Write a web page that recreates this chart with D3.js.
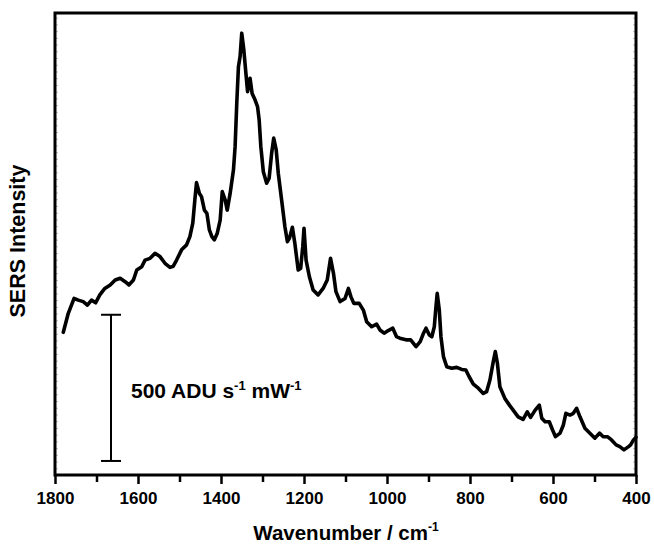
<!DOCTYPE html>
<html>
<head>
<meta charset="utf-8">
<script src="https://cdn.jsdelivr.net/npm/d3@7"></script>
<style>
  html, body { margin: 0; padding: 0; background: #fff; }
  svg { display: block; font-family: "Liberation Sans", Arial, Helvetica, sans-serif; }
</style>
</head>
<body>
<svg id="chart" width="654" height="546"></svg>
<script>
// Raman shift (cm^-1)
const wavenumbers = [
  1780,1768,1754,1744,1732,1722,1712,1702,1692,1680,1667,1655,1643,1631,1622,1611,1603,1591,1583,1571,
  1559,1547,1535,1523,1515,1507,1495,1483,1475,1468,1463,1459,1452,1447,1440,1434,1428,1422,1416,1409,
  1402,1397,1390,1385,1378,1370,1366,1362,1358,1354,1350,1345,1340,1336,1330,1325,1318,1312,1308,1304,
  1298,1290,1284,1278,1273,1267,1262,1254,1246,1240,1235,1228,1222,1214,1208,1203,1200,1195,1187,1178,
  1166,1154,1144,1136,1129,1123,1113,1101,1093,1087,1080,1067,1057,1049,1037,1025,1017,1007,997,986,
  977,969,952,943,930,920,912,906,898,892,886,882,879,874,870,864,856,844,832,820,
  810,802,792,780,768,760,752,744,739,734,728,716,705,696,684,672,662,654,643,633,
  627,619,609,601,594,583,575,569,559,551,543,535,523,511,499,488,479,469,459,448,
  439,429,418,413,406,400
];
// SERS intensity (ADU s^-1 mW^-1, arbitrary offset)
const intensities = [
  488,553,604,598,593,581,598,589,616,638,650,667,673,661,650,667,701,712,735,741,
  758,747,724,710,714,735,770,787,815,861,941,1000,963,952,906,895,838,815,804,827,
  872,969,941,906,963,1043,1123,1271,1396,1431,1511,1454,1374,1311,1357,1305,1283,1260,1214,1123,
  1037,998,1015,1100,1152,1112,1032,941,849,798,810,847,792,701,707,781,844,735,678,633,
  616,638,667,741,690,627,593,604,638,610,587,587,564,524,507,516,496,485,494,502,
  473,468,462,462,439,456,485,502,479,473,507,576,621,564,473,405,370,365,368,361,
  359,336,311,297,279,285,325,387,422,382,302,262,239,222,199,190,216,197,222,239,
  194,182,182,154,131,143,171,211,205,211,228,199,160,143,126,143,131,131,120,103,
  97,86,97,103,120,129
];
// Axis ticks
const majorTicks = [1800, 1600, 1400, 1200, 1000, 800, 600, 400];
const minorTicks = [1700, 1500, 1300, 1100, 900, 700, 500];
// Scale bar: 500 ADU s^-1 mW^-1
const scaleBar = [48, 548];
const xDomain = [1800, 400];
const yDomain = [0, 1580];

const data = wavenumbers.map((w, i) => ({ w, v: intensities[i] }));

const svg = d3.select("#chart");
const mLeft = 55, mRight = 636, mTop = 13, mBottom = 475;

const x = d3.scaleLinear().domain(xDomain).range([mLeft, mRight]);
const y = d3.scaleLinear().domain(yDomain).range([mBottom, mTop]);

// faint inner ticks on left and right frame
const faint = d3.range(0, 1580, 23);
svg.append("g")
  .attr("transform", `translate(${mLeft},0)`)
  .call(d3.axisRight(y).tickValues(faint).tickSize(3).tickFormat(""))
  .call(g => g.select(".domain").remove())
  .call(g => g.selectAll("line").attr("stroke", "#bdbdbd").attr("stroke-width", 1));
svg.append("g")
  .attr("transform", `translate(${mRight},0)`)
  .call(d3.axisLeft(y).tickValues(faint).tickSize(3).tickFormat(""))
  .call(g => g.select(".domain").remove())
  .call(g => g.selectAll("line").attr("stroke", "#bdbdbd").attr("stroke-width", 1));

// minor x ticks
svg.append("g")
  .attr("transform", `translate(0,${mBottom})`)
  .call(d3.axisBottom(x).tickValues(minorTicks).tickSize(7).tickFormat(""))
  .call(g => g.select(".domain").remove())
  .call(g => g.selectAll("line").attr("stroke", "#000").attr("stroke-width", 2.5));

// major x ticks
svg.append("g")
  .attr("transform", `translate(0,${mBottom})`)
  .call(d3.axisBottom(x).tickValues(majorTicks).tickSize(9).tickPadding(8).tickFormat(d3.format("d")))
  .call(g => g.select(".domain").remove())
  .call(g => g.selectAll("line").attr("stroke", "#000").attr("stroke-width", 2.5))
  .call(g => g.selectAll("text")
    .attr("fill", "#000")
    .attr("font-size", "17px")
    .attr("font-weight", "bold")
    .attr("font-family", "'Liberation Sans', Arial, sans-serif"));

// frame
svg.append("rect")
  .attr("x", mLeft).attr("y", mTop)
  .attr("width", mRight - mLeft).attr("height", mBottom - mTop)
  .attr("fill", "none").attr("stroke", "#000").attr("stroke-width", 3);

// spectrum
const line = d3.line().x(d => x(d.w)).y(d => y(d.v));
svg.append("path")
  .datum(data)
  .attr("d", line)
  .attr("fill", "none")
  .attr("stroke", "#000")
  .attr("stroke-width", 3.6)
  .attr("stroke-linejoin", "round")
  .attr("stroke-linecap", "round");

// scale bar
const barX = x(1665);
const sb = svg.append("g").attr("stroke", "#000").attr("stroke-width", 2);
sb.append("line").attr("x1", barX).attr("x2", barX).attr("y1", y(scaleBar[0])).attr("y2", y(scaleBar[1]));
sb.append("line").attr("x1", barX - 10).attr("x2", barX + 10).attr("y1", y(scaleBar[0])).attr("y2", y(scaleBar[0]));
sb.append("line").attr("x1", barX - 10).attr("x2", barX + 10).attr("y1", y(scaleBar[1])).attr("y2", y(scaleBar[1]));

const sbText = svg.append("text")
  .attr("x", 131).attr("y", 398)
  .attr("font-size", "21px").attr("font-weight", "bold").attr("fill", "#000");
sbText.append("tspan").text("500 ADU s");
sbText.append("tspan").attr("dy", -8).attr("font-size", "13px").text("-1");
sbText.append("tspan").attr("dy", 8).text(" mW");
sbText.append("tspan").attr("dy", -8).attr("font-size", "13px").text("-1");

// x title
const xt = svg.append("text")
  .attr("x", 346).attr("y", 540)
  .attr("text-anchor", "middle")
  .attr("font-size", "20.5px").attr("font-weight", "bold").attr("fill", "#000");
xt.append("tspan").text("Wavenumber / cm");
xt.append("tspan").attr("dy", -9).attr("font-size", "12px").text("-1");

// y title
svg.append("text")
  .attr("transform", `translate(25,241) rotate(-90)`)
  .attr("text-anchor", "middle")
  .attr("font-size", "21.5px").attr("font-weight", "bold").attr("fill", "#000")
  .text("SERS Intensity");
</script>
</body>
</html>
